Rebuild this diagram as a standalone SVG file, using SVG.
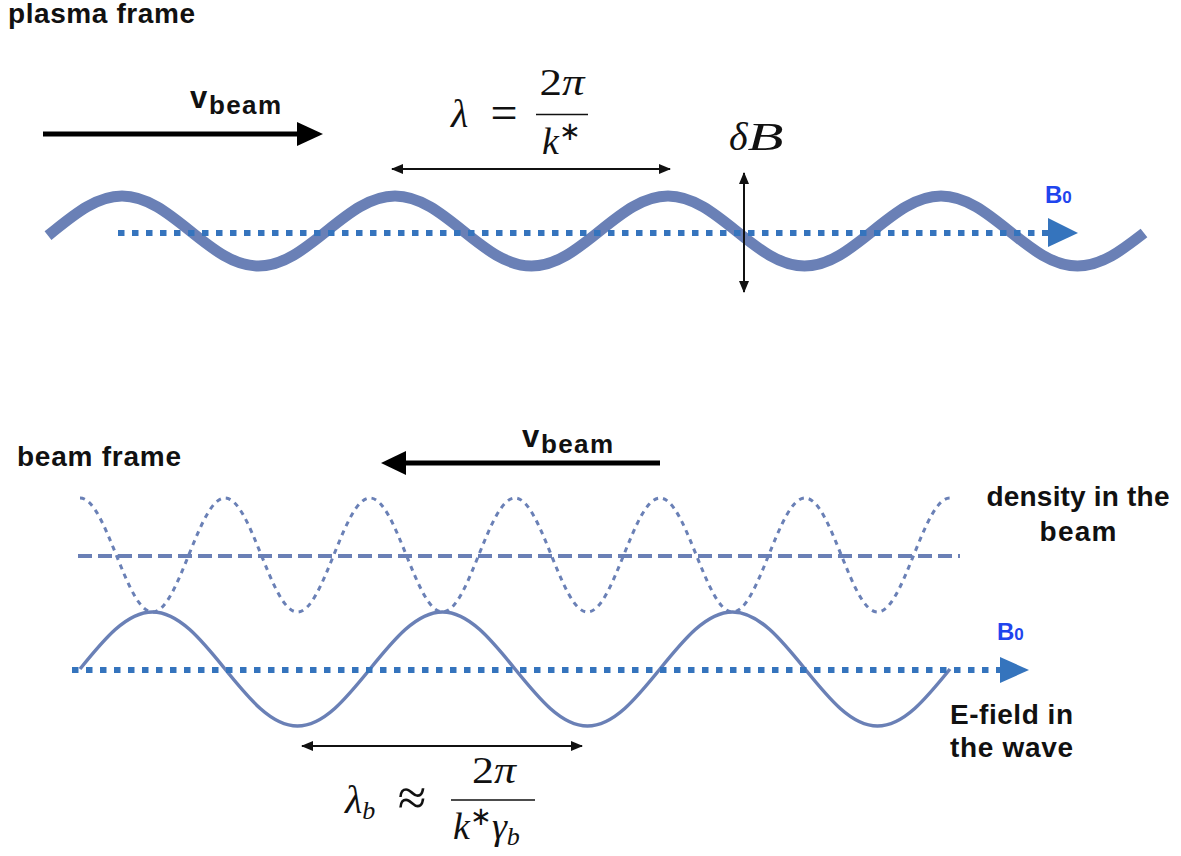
<svg xmlns="http://www.w3.org/2000/svg" width="1181" height="856" viewBox="0 0 1181 856">
<style>
.lbl{font-family:"Liberation Sans",Arial,Helvetica,sans-serif;font-weight:bold;font-size:28px;fill:#111}
.v{font-family:"Liberation Sans",Arial,Helvetica,sans-serif;font-weight:bold;fill:#111}
.b0{font-family:"Liberation Sans",Arial,Helvetica,sans-serif;font-weight:bold;fill:#1f45ee}
.m{font-family:"Liberation Serif","Times New Roman",serif;font-size:38px;fill:#111}
.it{font-style:italic}
.wave{fill:none;stroke:#6a80b6}
.bfield{fill:none;stroke:#3574bd;stroke-width:6;stroke-dasharray:6.5 7.5}
.thick{stroke:#000;stroke-width:5;fill:none}
.thin{stroke:#111;stroke-width:2;fill:none;marker-start:url(#ah);marker-end:url(#ah)}
</style>
<defs>
<marker id="ah" markerUnits="userSpaceOnUse" viewBox="0 0 12 10" markerWidth="12" markerHeight="10" refX="11" refY="5" orient="auto-start-reverse">
<path d="M0,0 L12,5 L0,10 z" fill="#111"/>
</marker>
</defs>
<rect width="1181" height="856" fill="#fff"/>

<g id="labels-plasma">
<text class="lbl" x="8" y="23" textLength="187" lengthAdjust="spacing">plasma frame</text>
</g>

<g id="top-wave">
<path class="wave" stroke-width="11" d="M48,235.6 L53.75,231
c22.26,-17.93 43.55,-35 68.25,-35 c24.7,0 45.99,17.07 68.25,35 c22.26,17.93 43.55,35 68.25,35 c24.7,0 45.99,-17.07 68.25,-35
c22.26,-17.93 43.55,-35 68.25,-35 c24.7,0 45.99,17.07 68.25,35 c22.26,17.93 43.55,35 68.25,35 c24.7,0 45.99,-17.07 68.25,-35
c22.26,-17.93 43.55,-35 68.25,-35 c24.7,0 45.99,17.07 68.25,35 c22.26,17.93 43.55,35 68.25,35 c24.7,0 45.99,-17.07 68.25,-35
c22.26,-17.93 43.55,-35 68.25,-35 c24.7,0 45.99,17.07 68.25,35 c22.26,17.93 43.55,35 68.25,35 c24.7,0 45.99,-17.07 66.5,-33"/>
</g>

<g id="top-b0">
<line class="bfield" x1="118" y1="233" x2="1050" y2="233"/>
<polygon points="1048,218 1078,233 1048,247" fill="#3574bd"/>
<text class="b0" x="1045" y="203" font-size="24">B<tspan font-size="17">0</tspan></text>
</g>

<g id="top-vbeam">
<line class="thick" x1="43" y1="134" x2="300" y2="134"/>
<polygon points="297,122 323,134 297,146" fill="#000"/>
<text class="v" x="190" y="108" font-size="31">v</text>
<text class="v" x="209" y="114" font-size="26" textLength="72" lengthAdjust="spacing">beam</text>
</g>

<g id="top-lambda">
<line class="thin" x1="392" y1="169" x2="670" y2="169"/>
<text class="m it" x="451" y="127" style="font-size:40px">λ</text>
<text class="m" x="504" y="129" text-anchor="middle" style="font-size:48px">=</text>
<text class="m" x="562" y="95" text-anchor="middle" textLength="45" lengthAdjust="spacingAndGlyphs">2<tspan class="it">π</tspan></text>
<line x1="536" y1="114.5" x2="588" y2="114.5" stroke="#111" stroke-width="1.6"/>
<text class="m" x="542" y="154"><tspan class="it">k</tspan><tspan font-size="26" dy="-14">∗</tspan></text>
</g>

<g id="top-deltaB">
<line class="thin" x1="744" y1="173" x2="744" y2="292"/>
<text class="m it" x="729" y="150" style="font-size:40px">δ<tspan textLength="36" lengthAdjust="spacingAndGlyphs">B</tspan></text>
</g>

<g id="labels-beam">
<text class="lbl" x="17" y="466" textLength="164" lengthAdjust="spacing">beam frame</text>
</g>

<g id="bottom-vbeam">
<line class="thick" x1="660" y1="463" x2="403" y2="463"/>
<polygon points="406,451 381,463 406,475" fill="#000"/>
<text class="v" x="522" y="447" font-size="31">v</text>
<text class="v" x="541" y="453" font-size="26" textLength="72" lengthAdjust="spacing">beam</text>
</g>

<g id="density">
<line x1="78" y1="556" x2="960" y2="556" stroke="#6a80b6" stroke-width="4" stroke-dasharray="14 6"/>
<path class="wave" stroke-width="3" stroke-dasharray="5 5" d="M80,498
c13.12,0 24.43,27.8 36.25,57 c11.82,29.2 23.13,57 36.25,57 c13.12,0 24.43,-27.8 36.25,-57 c11.82,-29.2 23.13,-57 36.25,-57
c13.12,0 24.43,27.8 36.25,57 c11.82,29.2 23.13,57 36.25,57 c13.12,0 24.43,-27.8 36.25,-57 c11.82,-29.2 23.13,-57 36.25,-57
c13.12,0 24.43,27.8 36.25,57 c11.82,29.2 23.13,57 36.25,57 c13.12,0 24.43,-27.8 36.25,-57 c11.82,-29.2 23.13,-57 36.25,-57
c13.12,0 24.43,27.8 36.25,57 c11.82,29.2 23.13,57 36.25,57 c13.12,0 24.43,-27.8 36.25,-57 c11.82,-29.2 23.13,-57 36.25,-57
c13.12,0 24.43,27.8 36.25,57 c11.82,29.2 23.13,57 36.25,57 c13.12,0 24.43,-27.8 36.25,-57 c11.82,-29.2 23.13,-57 36.25,-57
c13.12,0 24.43,27.8 36.25,57 c11.82,29.2 23.13,57 36.25,57 c13.12,0 24.43,-27.8 36.25,-57 c11.82,-29.2 23.13,-57 36.25,-57"/>
<text class="lbl" x="1078" y="506" text-anchor="middle" textLength="183" lengthAdjust="spacing">density in the</text>
<text class="lbl" x="1078" y="541" text-anchor="middle" textLength="77" lengthAdjust="spacing">beam</text>
</g>

<g id="efield">
<path class="wave" stroke-width="3.5" d="M80,669
c23.64,-29.2 46.26,-57 72.5,-57 c26.24,0 48.86,27.8 72.5,57 c23.64,29.2 46.26,57 72.5,57 c26.24,0 48.86,-27.8 72.5,-57
c23.64,-29.2 46.26,-57 72.5,-57 c26.24,0 48.86,27.8 72.5,57 c23.64,29.2 46.26,57 72.5,57 c26.24,0 48.86,-27.8 72.5,-57
c23.64,-29.2 46.26,-57 72.5,-57 c26.24,0 48.86,27.8 72.5,57 c23.64,29.2 46.26,57 72.5,57 c26.24,0 48.86,-27.8 72.5,-57"/>
<text class="lbl" x="950" y="724" textLength="123" lengthAdjust="spacing">E-field in</text>
<text class="lbl" x="950" y="757" textLength="123" lengthAdjust="spacing">the wave</text>
</g>

<g id="bottom-b0">
<line class="bfield" x1="72" y1="670" x2="1002" y2="670"/>
<polygon points="1000,657 1029,670 1000,683" fill="#3574bd"/>
<text class="b0" x="997" y="640" font-size="24">B<tspan font-size="17">0</tspan></text>
</g>

<g id="bottom-lambda">
<line class="thin" x1="302" y1="746" x2="582" y2="746"/>
<text class="m it" x="345" y="813" style="font-size:40px">λ<tspan font-size="26" dy="6">b</tspan></text>
<text class="m" x="412" y="815" text-anchor="middle" style="font-size:52px">≈</text>
<text class="m" x="494" y="783" text-anchor="middle" textLength="44" lengthAdjust="spacingAndGlyphs">2<tspan class="it">π</tspan></text>
<line x1="451" y1="800" x2="535" y2="800" stroke="#111" stroke-width="1.6"/>
<text class="m" x="453" y="839"><tspan class="it">k</tspan><tspan font-size="26" dy="-14">∗</tspan><tspan class="it" dy="14">γ</tspan><tspan class="it" font-size="26" dy="6">b</tspan></text>
</g>
</svg>
